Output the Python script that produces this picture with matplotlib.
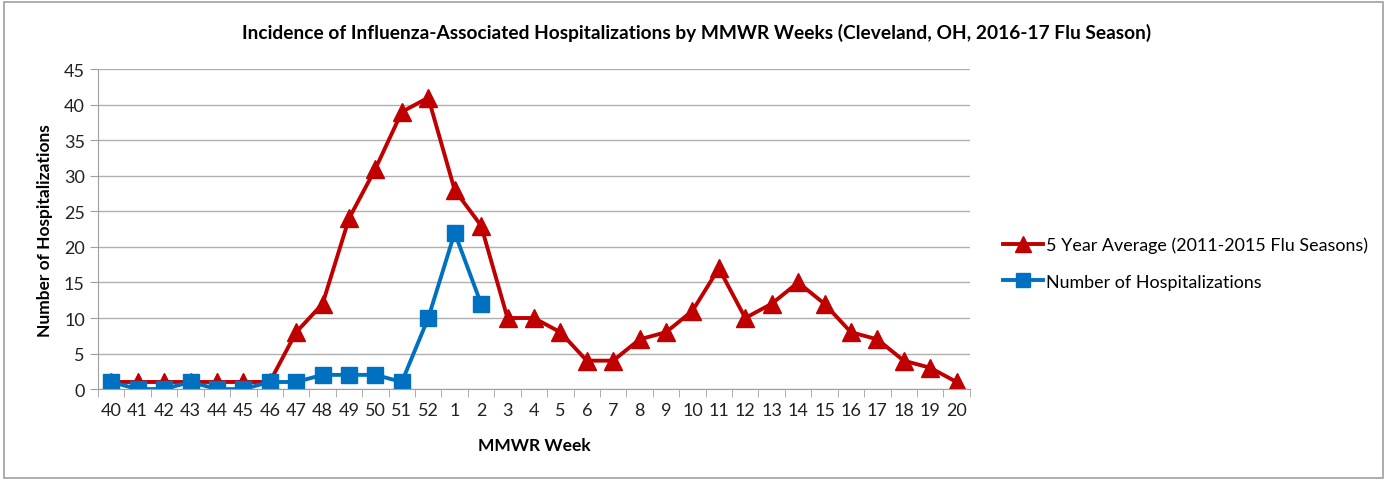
import numpy as np
import matplotlib
matplotlib.use("Agg")
import matplotlib.pyplot as plt
from matplotlib.patches import Rectangle

weeks = [str(w) for w in list(range(40, 53)) + list(range(1, 21))]
avg_5yr = [1, 1, 1, 1, 1, 1, 1, 8, 12, 24, 31, 39, 41, 28, 23, 10, 10, 8,
           4, 4, 7, 8, 11, 17, 10, 12, 15, 12, 8, 7, 4, 3, 1]
hosp = [1, 0, 0, 1, 0, 0, 1, 1, 2, 2, 2, 1, 10, 22, 12]

plt.rcParams["font.family"] = ["Lato", "DejaVu Sans"]

fig = plt.figure(figsize=(13.87, 4.81), dpi=100)
fig.patches.append(Rectangle((0.003, 0.004), 0.994, 0.99, transform=fig.transFigure,
                             fill=False, edgecolor="#a0a0a0", linewidth=1.2))
ax = fig.add_axes([0.0707, 0.189, 0.6285, 0.665])

x = np.arange(len(weeks))
ax.plot(x, avg_5yr, color="#C00000", linewidth=2.8, marker="^", markersize=13,
        label="5 Year Average (2011-2015 Flu Seasons)")
ax.plot(x[:len(hosp)], hosp, color="#0070C0", linewidth=2.8, marker="s", markersize=12,
        label="Number of Hospitalizations")

ax.set_xlim(-0.5, len(weeks) - 0.5)
ax.set_ylim(0, 45)
ax.set_yticks(np.arange(0, 46, 5))
ax.set_xticks(x)
ax.set_xticklabels(weeks)
ax.set_xticks(np.arange(-0.5, len(weeks), 1), minor=True)
ax.tick_params(axis="x", which="major", length=0, labelsize=13, pad=9, colors="#222222")
ax.tick_params(axis="x", which="minor", length=6, color="#a0a0a0")
ax.tick_params(axis="y", length=6, color="#a0a0a0", labelsize=13, colors="#222222")
ax.grid(axis="y", color="#b0b0b0", linewidth=1)
ax.set_axisbelow(True)
for s in ["top", "right"]:
    ax.spines[s].set_visible(False)
for s in ["left", "bottom"]:
    ax.spines[s].set_color("#a0a0a0")

ax.set_xlabel("MMWR Week", fontsize=12.5, fontweight="bold", labelpad=14)
ax.set_ylabel("Number of Hospitalizations", fontsize=12.5, fontweight="bold", labelpad=8)
fig.suptitle("Incidence of Influenza-Associated Hospitalizations by MMWR Weeks (Cleveland, OH, 2016-17 Flu Season)",
             x=0.502, y=0.95, fontsize=13.8, fontweight="bold")

ax.legend(loc="center left", bbox_to_anchor=(1.02, 0.394), frameon=False, fontsize=12.9,
          handlelength=2.2, handletextpad=0.2, labelspacing=1.15, markerscale=0.85)

fig.savefig("out.png", dpi=100)
